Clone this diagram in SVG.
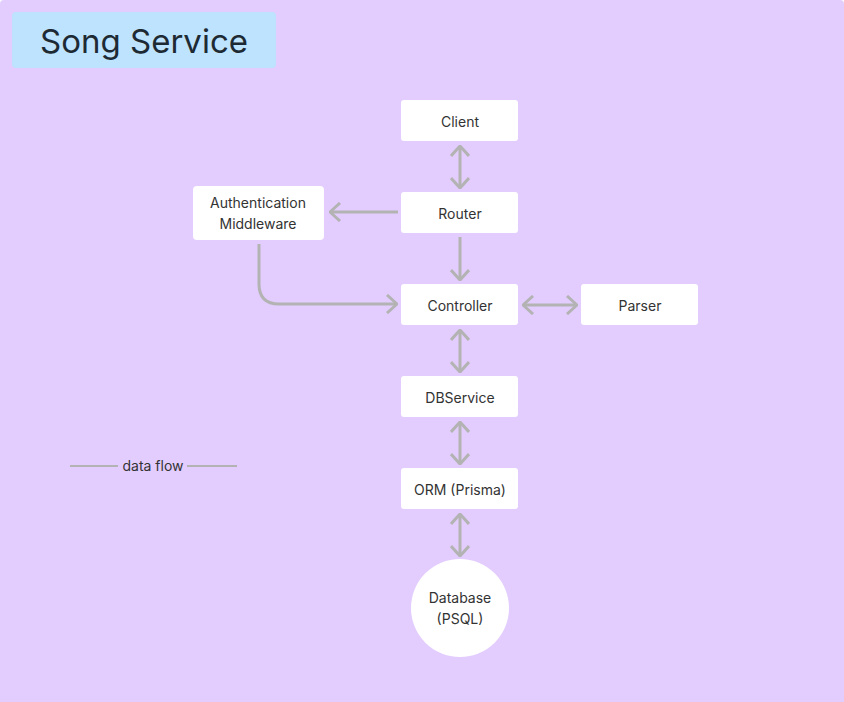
<svg xmlns="http://www.w3.org/2000/svg" width="844" height="702" viewBox="0 0 844 702">
<style>
.node{fill:#ffffff}
.lbl{font-family:Inter,"Noto Sans",sans-serif;font-size:14px;fill:#333333;text-anchor:middle}
.con{stroke:#b3b3b3;stroke-width:3;fill:none}
</style>
<defs>
<marker id="ah" viewBox="0 0 12 20" refX="11" refY="10" markerWidth="12" markerHeight="20" markerUnits="userSpaceOnUse" orient="auto-start-reverse">
<path d="M1,1 L11,10 L1,19" fill="none" stroke="#b3b3b3" stroke-width="3"/>
</marker>
</defs>
<rect x="0" y="0" width="844" height="702" fill="#ffffff"/>
<path d="M4,0 H840 Q844,0 844,4 V702 H0 V4 Q0,0 4,0 Z" fill="#e3cdfe"/>
<g id="title">
<rect x="12" y="12" width="264" height="56" rx="4" fill="#bde3fe"/>
<text x="144" y="53" font-family="Inter,'Noto Sans',sans-serif" font-size="33" fill="#1e2a33" text-anchor="middle">Song Service</text>
</g>
<g id="connectors">
<line class="con" x1="460" y1="146" x2="460" y2="188" marker-start="url(#ah)" marker-end="url(#ah)"/>
<line class="con" x1="398" y1="212" x2="330" y2="212" marker-end="url(#ah)"/>
<line class="con" x1="460" y1="237" x2="460" y2="280" marker-end="url(#ah)"/>
<path class="con" d="M259,244 L259,284 Q259,304 279,304 L397,304" marker-end="url(#ah)"/>
<line class="con" x1="523" y1="305" x2="577" y2="305" marker-start="url(#ah)" marker-end="url(#ah)"/>
<line class="con" x1="460" y1="330" x2="460" y2="372" marker-start="url(#ah)" marker-end="url(#ah)"/>
<line class="con" x1="460" y1="422" x2="460" y2="464" marker-start="url(#ah)" marker-end="url(#ah)"/>
<line class="con" x1="460" y1="514" x2="460" y2="556" marker-start="url(#ah)" marker-end="url(#ah)"/>
</g>
<g id="client"><rect class="node" x="401" y="100" width="117" height="41" rx="3"/><text class="lbl" x="460" y="127">Client</text></g>
<g id="router"><rect class="node" x="401" y="192" width="117" height="41" rx="3"/><text class="lbl" x="460" y="219">Router</text></g>
<g id="auth"><rect class="node" x="193" y="186" width="131" height="54" rx="4"/><text class="lbl" x="258" y="208">Authentication</text><text class="lbl" x="258" y="229">Middleware</text></g>
<g id="controller"><rect class="node" x="401" y="284" width="117" height="41" rx="3"/><text class="lbl" x="460" y="311">Controller</text></g>
<g id="parser"><rect class="node" x="581" y="284" width="117" height="41" rx="3"/><text class="lbl" x="640" y="311">Parser</text></g>
<g id="dbservice"><rect class="node" x="401" y="376" width="117" height="41" rx="3"/><text class="lbl" x="460" y="403">DBService</text></g>
<g id="orm"><rect class="node" x="401" y="468" width="117" height="41" rx="3"/><text class="lbl" x="460" y="495">ORM (Prisma)</text></g>
<g id="database"><circle class="node" cx="460" cy="608" r="49"/><text class="lbl" x="460" y="603">Database</text><text class="lbl" x="460" y="624">(PSQL)</text></g>
<g id="legend">
<line x1="70" y1="466" x2="118" y2="466" stroke="#b3b3b3" stroke-width="2"/>
<text class="lbl" x="153" y="471">data flow</text>
<line x1="187" y1="466" x2="237" y2="466" stroke="#b3b3b3" stroke-width="2"/>
</g>
</svg>
